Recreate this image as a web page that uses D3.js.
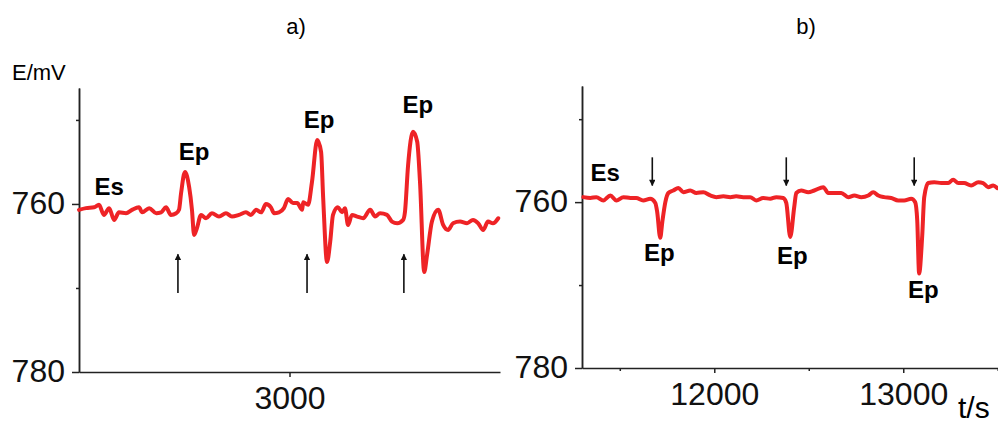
<!DOCTYPE html>
<html>
<head>
    <script src="https://cdnjs.cloudflare.com/ajax/libs/d3/7.8.5/d3.min.js"></script>
    <style>
        body { margin: 0; background: #fff; }
        svg { font-family: "Liberation Sans", Arial, sans-serif; }
        .axis path, .axis line { stroke: #222; stroke-width: 1.5; }
        .axis text { font-size: 32px; fill: #111; }
        .tag { font-weight: bold; font-size: 24px; fill: #000; }
    </style>
</head>
<body>
    <div id="chart"></div>

    <script>
        // panel a) potential trace
        const leftTime = [2400, 2420, 2443, 2457, 2471, 2486, 2500, 2514, 2534, 2551, 2571, 2580, 2600, 2620,
            2634, 2648, 2662, 2677, 2685, 2691, 2702, 2714, 2722, 2728, 2736, 2748, 2762, 2779, 2799, 2819,
            2836, 2856, 2876, 2890, 2905, 2919, 2933, 2947, 2956, 2970, 2984, 2996, 3010, 3022, 3036, 3039,
            3053, 3064, 3079, 3090, 3096, 3107, 3116, 3124, 3138, 3150, 3158, 3167, 3178, 3193, 3210, 3230,
            3244, 3258, 3278, 3292, 3307, 3324, 3329, 3338, 3352, 3364, 3372, 3384, 3392, 3406, 3424, 3438,
            3452, 3466, 3486, 3506, 3523, 3538, 3552, 3566, 3580, 3595];
        const leftE = [760.7, 760.5, 760.4, 760.1, 761.3, 760.5, 761.9, 761.0, 761.1, 760.7, 760.4, 761.0, 760.5, 761.1,
            761.0, 760.4, 761.3, 761.1, 760.7, 758.7, 756.2, 758.0, 760.7, 763.7, 762.9, 761.3, 761.7, 761.1, 761.5, 761.1,
            761.5, 761.3, 761.0, 761.3, 760.7, 761.0, 760.0, 760.4, 761.1, 761.0, 760.5, 759.4, 759.9, 759.9, 760.7, 759.8,
            760.1, 757.4, 752.4, 753.8, 759.3, 766.9, 764.5, 761.3, 760.4, 761.0, 760.5, 762.5, 761.3, 761.5, 761.7, 760.7,
            761.5, 761.1, 761.3, 762.1, 762.3, 761.9, 761.0, 755.4, 751.4, 752.6, 757.4, 768.1, 766.1, 762.1, 760.7, 762.5,
            763.1, 762.3, 762.1, 762.3, 761.9, 762.3, 763.1, 762.1, 762.3, 761.7];

        // panel b) potential trace
        const rightTime = [11307, 11344, 11376, 11413, 11450, 11482, 11519, 11556, 11587, 11624, 11661, 11688, 11698,
            11714, 11725, 11741, 11757, 11783, 11810, 11836, 11873, 11905, 11942, 11979, 12011, 12048, 12085, 12116,
            12153, 12190, 12222, 12259, 12296, 12328, 12365, 12381, 12402, 12423, 12434, 12460, 12497, 12529, 12577,
            12603, 12635, 12672, 12709, 12741, 12778, 12815, 12841, 12868, 12899, 12936, 12973, 13005, 13042, 13063,
            13074, 13084, 13100, 13111, 13132, 13164, 13201, 13238, 13264, 13291, 13322, 13359, 13397, 13423, 13449,
            13476, 13497];
        const rightE = [759.4, 759.5, 759.4, 759.8, 759.2, 759.8, 759.4, 759.5, 759.5, 759.8, 759.6, 760.1, 761.2,
            764.3, 762.4, 760.0, 758.9, 758.6, 758.3, 758.8, 758.6, 758.9, 758.8, 759.2, 759.4, 759.3, 759.4, 759.3,
            759.4, 759.4, 759.8, 759.5, 759.6, 759.4, 759.5, 760.1, 764.2, 760.6, 758.9, 758.6, 758.8, 758.6, 758.2,
            758.9, 758.9, 758.9, 759.4, 759.2, 759.4, 759.2, 758.8, 759.2, 759.4, 759.5, 759.8, 759.8, 759.6, 760.0,
            762.2, 768.6, 764.2, 759.4, 757.7, 757.6, 757.7, 757.7, 757.3, 757.7, 757.7, 758.0, 757.6, 757.7, 758.2,
            758.0, 758.3];

        // tick labels
        const leftXTicks = [3000];
        const rightXTicks = [12000, 13000];
        const rightXMinor = [11500, 12500, 13500];
        const yTicks = [760, 780];
        const yMinor = [750, 770];

        // annotations (data units)
        const leftLabels = [
            { text: "Es", t: 2486, e: 758.9 },
            { text: "Ep", t: 2728, e: 754.8 },
            { text: "Ep", t: 3084, e: 751.0 },
            { text: "Ep", t: 3366, e: 749.2 }
        ];
        const rightLabels = [
            { text: "Es", t: 11423, e: 757.5 },
            { text: "Ep", t: 11709, e: 767.1 },
            { text: "Ep", t: 12413, e: 767.5 },
            { text: "Ep", t: 13106, e: 771.6 }
        ];
        const leftArrows = [2682, 3050, 3326];     // pointing up
        const rightArrows = [11672, 12381, 13058]; // pointing down

        const width = 998, height = 426;
        const svg = d3.select("#chart").append("svg")
            .attr("width", width)
            .attr("height", height);

        const defs = svg.append("defs");
        defs.append("marker")
            .attr("id", "head")
            .attr("viewBox", "0 0 10 10")
            .attr("refX", 9).attr("refY", 5)
            .attr("markerWidth", 4.4).attr("markerHeight", 4)
            .attr("markerUnits", "strokeWidth")
            .attr("orient", "auto")
            .append("path")
            .attr("d", "M0,0 L10,5 L0,10 Z")
            .attr("fill", "#111");

        function drawPanel(opt) {
            const x = d3.scaleLinear().domain(opt.xDomain).range(opt.xRange);
            const y = d3.scaleLinear().domain(opt.yDomain).range(opt.yRange);
            const g = svg.append("g");

            // y axis
            g.append("g").attr("class", "axis")
                .attr("transform", `translate(${opt.xRange[0]},0)`)
                .call(d3.axisLeft(y).tickValues(yTicks).tickSize(7).tickPadding(7).tickSizeOuter(0))
                .call(a => a.selectAll("text").attr("dy", "0.3em"));
            g.append("g").attr("class", "axis")
                .attr("transform", `translate(${opt.xRange[0]},0)`)
                .call(d3.axisLeft(y).tickValues(yMinor).tickSize(3).tickFormat("").tickSizeOuter(0));

            // x axis
            g.append("g").attr("class", "axis")
                .attr("transform", `translate(0,${opt.yRange[0]})`)
                .call(d3.axisBottom(x).tickValues(opt.xTicks).tickFormat(d3.format("d"))
                    .tickSize(5).tickPadding(9).tickSizeOuter(0));
            if (opt.xMinor.length) {
                g.append("g").attr("class", "axis")
                    .attr("transform", `translate(0,${opt.yRange[0]})`)
                    .call(d3.axisBottom(x).tickValues(opt.xMinor).tickSize(3).tickFormat("").tickSizeOuter(0))
                    .select(".domain").remove();
            }

            // trace
            const pts = opt.time.map((t, i) => [t, opt.values[i]]);
            g.append("path")
                .datum(pts)
                .attr("fill", "none")
                .attr("stroke", "#ee2326")
                .attr("stroke-width", 4)
                .attr("stroke-linejoin", "round")
                .attr("stroke-linecap", "round")
                .attr("d", d3.line().x(d => x(d[0])).y(d => y(d[1])).curve(d3.curveMonotoneX));

            // labels
            g.selectAll(".tag").data(opt.labels).enter()
                .append("text")
                .attr("class", "tag")
                .attr("x", d => x(d.t))
                .attr("y", d => y(d.e))
                .attr("text-anchor", "middle")
                .text(d => d.text);

            // arrows
            g.selectAll(".arrow").data(opt.arrows).enter()
                .append("line")
                .attr("x1", d => x(d)).attr("x2", d => x(d))
                .attr("y1", y(opt.arrowFrom)).attr("y2", y(opt.arrowTo))
                .attr("stroke", "#111")
                .attr("stroke-width", 1.6)
                .attr("marker-end", "url(#head)");

            // panel title
            svg.append("text")
                .attr("x", opt.title.x).attr("y", 34)
                .attr("text-anchor", "middle")
                .attr("font-size", "22px")
                .text(opt.title.text);
        }

        drawPanel({
            time: leftTime, values: leftE,
            xDomain: [2400, 3600], xRange: [79, 500],
            yDomain: [780, 746.2], yRange: [372, 88],
            xTicks: leftXTicks, xMinor: [],
            labels: leftLabels, arrows: leftArrows,
            arrowFrom: 770.6, arrowTo: 766.0,
            title: { text: "a)", x: 296 }
        });

        drawPanel({
            time: rightTime, values: rightE,
            xDomain: [11300, 13512], xRange: [582, 1000],
            yDomain: [780, 746], yRange: [368, 86],
            xTicks: rightXTicks, xMinor: rightXMinor,
            labels: rightLabels, arrows: rightArrows,
            arrowFrom: 754.6, arrowTo: 758.0,
            title: { text: "b)", x: 806 }
        });

        // axis titles
        svg.append("text")
            .attr("x", 12).attr("y", 80)
            .attr("font-size", "22px")
            .text("E/mV");
        svg.append("text")
            .attr("x", 958).attr("y", 418)
            .attr("font-size", "30px")
            .text("t/s");
    </script>
</body>
</html>
